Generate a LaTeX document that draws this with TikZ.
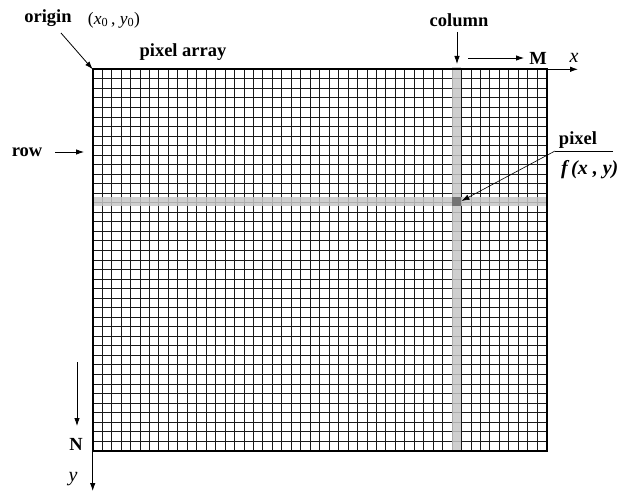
\documentclass[tikz,border=0pt]{standalone}
\usepackage{fontspec}
\setmainfont{Liberation Serif}
\usetikzlibrary{arrows.meta}
\begin{document}
\begin{tikzpicture}[x=1pt,y=-1pt,
  lbl/.style={font=\fontsize{18.5}{20}\selectfont\bfseries, inner sep=0pt},
  itl/.style={font=\fontsize{20}{22}\selectfont\itshape, inner sep=0pt},
  arr/.style={-{Latex[length=8pt,width=5.5pt]}, line width=0.8pt},
  gridline/.style={line width=0.9pt, black!90},
  hl/.style={fill=black!22, opacity=0.85},
]
\useasboundingbox (0,0) rectangle (619,492);
% corners of the pixel array
\coordinate (TL) at (92.7,69.3);
\coordinate (TR) at (546.7,69.3);
\coordinate (BL) at (92.7,450.7);
\coordinate (BR) at (546.7,450.7);
% grid
\foreach \i in {1,...,47} \draw[gridline] ({92.7+\i*9.458},69.3) -- ++(0,381.4);
\foreach \j in {1,...,39} \draw[gridline] (92.7,{69.3+\j*9.535}) -- ++(454,0);
% highlighted column and row
\fill[hl] (452,67) rectangle (461,450.7);
\fill[hl] (92.7,196.7) rectangle (546.7,206.3);
\fill[black!55] (452,196.7) rectangle (461,206.3);
% border
\draw[line width=1.8pt] (TL) rectangle (BR);
% axes
\coordinate (xend) at (578,69.3);
\coordinate (yend) at (92.7,491);
\draw[arr] (TR) -- (xend);
\draw[arr] (BL) -- (yend);
\node[itl] (xl) at (574,58) {x};
\node[itl] (yl) at (73,479) {y};
% origin
\node[lbl] (origin) at (48,18) {origin};
\node[font=\fontsize{17.5}{19}\selectfont, inner sep=0pt] (xy0) at (114,20) {(\textit{x}\textsubscript{0}\,, \textit{y}\textsubscript{0})};
\coordinate (oa) at (61,33);
\draw[arr] (oa) -- (TL);
\node[lbl] (parr) at (183,52) {pixel array};
% column
\node[lbl] (col) at (459,20) {column};
\coordinate (ca) at (457,32);
\coordinate (cb) at (457,64);
\draw[arr] (ca) -- (cb);
\coordinate (ma) at (468,58);
\coordinate (mb) at (524,58);
\draw[arr] (ma) -- (mb);
\node[lbl] (M) at (538,58) {M};
% row
\node[lbl] (row) at (27,152) {row};
\coordinate (ra) at (55,152);
\coordinate (rb) at (84,152);
\draw[arr] (ra) -- (rb);
% pixel
\node[lbl] (pix) at (578,140) {pixel};
\coordinate (pa) at (613,151);
\coordinate (pb) at (555,151);
\coordinate (pc) at (461.5,201);
\draw[line width=0.6pt] (pa) -- (pb);
\draw[arr, line width=0.6pt] (pb) -- (pc);
\node[font=\fontsize{20}{22}\selectfont\bfseries\itshape, inner sep=0pt, anchor=west] (fxy) at (561,170) {f\,(x , y)};
% N
\node[lbl] (N) at (76,444) {N};
\coordinate (na) at (77,362);
\coordinate (nb) at (77,426);
\draw[arr] (na) -- (nb);
\end{tikzpicture}
\end{document}
